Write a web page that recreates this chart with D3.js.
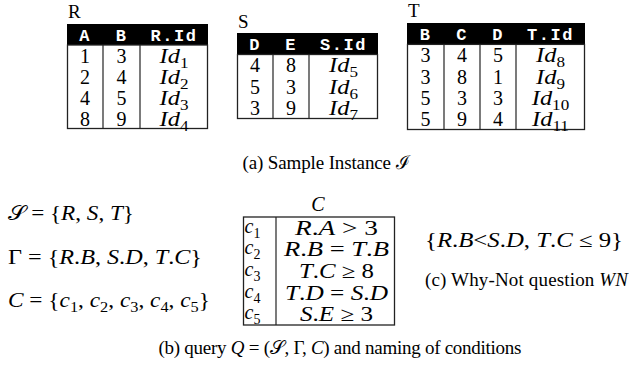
<!DOCTYPE html>
<html><head><meta charset="utf-8">
<script src="https://cdn.jsdelivr.net/npm/d3@7"></script>
<style>html,body{margin:0;padding:0;background:#fff;}svg{display:block;}</style>
</head><body>
<svg id="chart" width="629" height="376"></svg>
<script>
// ---------------- data ----------------
const R_columns = ["A", "B", "R.Id"];
const R_rows = [["1", "3", "$Id_1$"], ["2", "4", "$Id_2$"], ["4", "5", "$Id_3$"], ["8", "9", "$Id_4$"]];
const S_columns = ["D", "E", "S.Id"];
const S_rows = [["4", "8", "$Id_5$"], ["5", "3", "$Id_6$"], ["3", "9", "$Id_7$"]];
const T_columns = ["B", "C", "D", "T.Id"];
const T_rows = [["3", "4", "5", "$Id_8$"], ["3", "8", "1", "$Id_9$"], ["5", "3", "3", "$Id_{10}$"], ["5", "9", "4", "$Id_{11}$"]];
const condition_names = ["$c_1$", "$c_2$", "$c_3$", "$c_4$", "$c_5$"];
const condition_exprs = ["$R.A > 3$", "$R.B = T.B$", "$T.C \u2265 8$", "$T.D = S.D$", "$S.E \u2265 3$"];
const query_lines = ["$\u{1D4AE} = {R, S, T}$", "$\u0393 = {R.B, S.D, T.C}$", "$C = {c_1, c_2, c_3, c_4, c_5}$"];
const whynot_text = "${R.B<S.D, T.C \u2264 9}$";
const caption_a = "(a) Sample Instance $\u2110$";
const caption_b = "(b) query $Q = (\u{1D4AE}, \u0393, C)$ and naming of conditions";
const caption_c = "(c) Why-Not question $WN$";
const cond_title = "$C$";

// ---------------- layout ----------------
const FS = 19, MFS = 20, MATH_STRETCH = 1.22;
const SERIF = "'Liberation Serif','Times New Roman',serif";
const MONO = "'Liberation Mono','Courier New',monospace";
const svg = d3.select("#chart");

function rich(sel, str, fs) {
  const parts = str.split("$");
  const segs = [];
  parts.forEach((p, i) => {
    if (i % 2 === 0) { if (p) segs.push({t: p, st: "r"}); return; }
    const chars = Array.from(p);
    for (let k = 0; k < chars.length; k++) {
      const c = chars[k];
      if (c === "_") {
        let sub = "";
        if (chars[k + 1] === "{") { k += 2; while (chars[k] !== "}") { sub += chars[k]; k++; } }
        else { sub = chars[k + 1]; k++; }
        segs.push({t: sub, st: "sub"});
      } else {
        const st = /[A-Za-z]/.test(c) ? "i" : "r";
        const last = segs[segs.length - 1];
        if (last && last.st === st && !last.closed) last.t += c; else segs.push({t: c, st});
      }
    }
    segs.push({t: "", st: "r", closed: true});
  });
  let shifted = false;
  segs.filter(s => s.t !== "").forEach(s => {
    const ts = sel.append("tspan").text(s.t);
    if (s.st === "i") ts.attr("font-style", "italic");
    if (s.st === "sub") {
      ts.attr("font-size", fs * 0.7).attr("dy", fs * 0.25);
      shifted = true;
    } else if (shifted) {
      ts.attr("dy", -fs * 0.25);
      shifted = false;
    }
  });
  return sel;
}

// width: explicit target width in px, or negative => stretch factor of natural width
function label(x, y, str, fs, anchor, width, glyphs) {
  const t = svg.append("text").attr("x", x).attr("y", y)
    .attr("font-family", SERIF).attr("font-size", fs)
    .attr("text-anchor", anchor || "start").attr("fill", "#000")
    .style("white-space", "pre");
  rich(t, str, fs);
  if (width) {
    const w = width > 0 ? width : t.node().getComputedTextLength() * (-width);
    t.attr("textLength", w).attr("lengthAdjust", glyphs ? "spacingAndGlyphs" : "spacing");
  }
  return t;
}

const tables = [
  {name: "R", cols: R_columns, rows: R_rows, x: 67, widths: [36, 37, 68], top: 24, bottom: 129, labelY: 18},
  {name: "S", cols: S_columns, rows: S_rows, x: 237, widths: [36, 36, 69], top: 33, bottom: 119, labelY: 28},
  {name: "T", cols: T_columns, rows: T_rows, x: 407, widths: [37, 36, 36, 69], top: 23, bottom: 130, labelY: 17}
];

tables.forEach(tb => {
  const g = svg.append("g");
  const edges = [tb.x].concat(Array.from(d3.cumsum(tb.widths), w => tb.x + w));
  const xs = d3.scaleOrdinal().domain(tb.cols).range(tb.cols.map((c, i) => (edges[i] + edges[i + 1]) / 2));
  const y = d3.scaleBand().domain(d3.range(tb.rows.length + 1)).range([tb.top, tb.bottom]);
  const right = edges[edges.length - 1];
  label(tb.x + 1, tb.labelY, tb.name, FS);
  g.append("rect").attr("x", tb.x).attr("y", tb.top).attr("width", right - tb.x).attr("height", y.bandwidth()).attr("fill", "#000");
  g.selectAll("text.h").data(tb.cols).join("text").attr("class", "h")
    .attr("x", d => xs(d)).attr("y", y(0) + y.bandwidth() / 2 + 6)
    .attr("text-anchor", "middle").attr("font-family", MONO).attr("font-weight", "bold")
    .attr("font-size", 17).attr("letter-spacing", 1.5).attr("fill", "#fff").text(d => d);
  g.append("rect").attr("x", tb.x + 0.5).attr("y", y(1)).attr("width", right - tb.x - 1).attr("height", tb.bottom - y(1) - 0.5)
    .attr("fill", "none").attr("stroke", "#222").attr("stroke-width", 1.3);
  edges.slice(1, -1).forEach(e => g.append("line").attr("x1", e).attr("x2", e).attr("y1", y(1)).attr("y2", tb.bottom)
    .attr("stroke", "#222").attr("stroke-width", 1.2));
  tb.rows.forEach((row, ri) => {
    row.forEach((cell, ci) => {
      const isMath = cell.indexOf("$") >= 0;
      label(xs(tb.cols[ci]), y(ri + 1) + y.bandwidth() / 2 + 7, cell, MFS, "middle", isMath ? -MATH_STRETCH : 0, true);
    });
  });
});

// caption (a)
label(326, 169, caption_a, FS, "middle", 167);

// left query lines
const qy = d3.scalePoint().domain(d3.range(query_lines.length)).range([220, 307]);
const qWidths = [126, 194, 202];
query_lines.forEach((q, i) => label(8, qy(i), q, MFS, "start", qWidths[i], true));

// conditions table
(function () {
  const x0 = 243, xd = 276, x1 = 395, top = 217, bottom = 325;
  const y = d3.scaleBand().domain(d3.range(condition_names.length)).range([top, bottom]);
  const eWidths = [83, 105, 75, 103, 73];
  label(318, 211, cond_title, MFS, "middle");
  svg.append("rect").attr("x", x0 + 0.5).attr("y", top).attr("width", x1 - x0 - 1).attr("height", bottom - top)
    .attr("fill", "none").attr("stroke", "#222").attr("stroke-width", 1.3);
  svg.append("line").attr("x1", xd).attr("x2", xd).attr("y1", top).attr("y2", bottom).attr("stroke", "#222").attr("stroke-width", 1.2);
  condition_names.forEach((n, i) => {
    label(x0 + 1.5, y(i) + y.bandwidth() / 2 + 5, n, MFS);
    label((xd + x1) / 2 + 1, y(i) + y.bandwidth() / 2 + 7, condition_exprs[i], MFS, "middle", eWidths[i], true);
  });
})();

// why-not
label(425, 247, whynot_text, MFS, "start", 198, true);
label(425, 286, caption_c, FS, "start", 203);

// caption (b)
label(340, 354, caption_b, FS, "middle", 363);
</script>
</body></html>
